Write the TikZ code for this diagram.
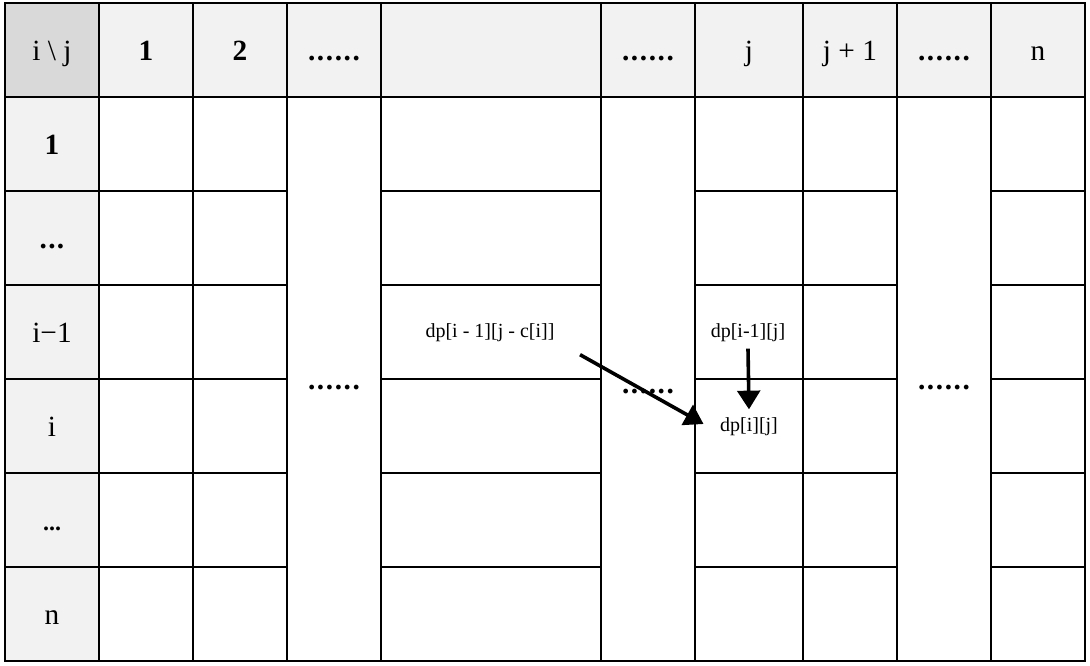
\documentclass[tikz,border=0pt]{standalone}
\usepackage{fontspec}
\setmainfont{Liberation Serif}
\usetikzlibrary{arrows.meta,calc}
\definecolor{hdr}{HTML}{F2F2F2}
\definecolor{corner}{HTML}{D9D9D9}
\newcommand\hdrsize{\fontsize{22}{26}\selectfont}
\newcommand\lblsize{\fontsize{15}{18}\selectfont}
\newcommand\sixdots{\textbf{.\kern1.2pt.\kern1.2pt.\kern1.2pt.\kern1.2pt.\kern1.2pt.}}
\newcommand\tcell[7]{\node[cellbox,#6,minimum width={(#4-#2)*0.75pt},minimum height={(#5-#3)*0.75pt}] (#1) at ({(#2+#4)/2},{(#3+#5)/2}) {\vphantom{Xy}\smash{\raisebox{-3pt}{#7}}};}
\begin{document}
\begin{tikzpicture}[x=0.75pt,y=-0.75pt,
  cellbox/.style={draw=black,line width=0.9pt,inner sep=0pt,anchor=center,font=\hdrsize},
  hdrcell/.style={fill=hdr},
  lbl/.style={inner sep=1pt,font=\lblsize},
  arr/.style={line width=2.7pt,-{Triangle[length=14pt,width=17pt]}}]
\useasboundingbox (0,0) rectangle (1090,666);
% header row
\tcell{h0}{5}{3}{99}{97}{fill=corner}{i \textbackslash\ j}
\tcell{h1}{99}{3}{193}{97}{hdrcell}{\textbf{1}}
\tcell{h2}{193}{3}{287}{97}{hdrcell}{\textbf{2}}
\tcell{h3}{287}{3}{381}{97}{hdrcell}{\sixdots}
\tcell{h4}{381}{3}{601}{97}{hdrcell}{}
\tcell{h5}{601}{3}{695}{97}{hdrcell}{\sixdots}
\tcell{h6}{695}{3}{803}{97}{hdrcell}{j}
\tcell{h7}{803}{3}{897}{97}{hdrcell}{j + 1}
\tcell{h8}{897}{3}{991}{97}{hdrcell}{\sixdots}
\tcell{h9}{991}{3}{1085}{97}{hdrcell}{n}
% row labels
\tcell{r1}{5}{97}{99}{191}{hdrcell}{\textbf{1}}
\tcell{r2}{5}{191}{99}{285}{hdrcell}{\textbf{.\kern1pt.\kern1pt.}}
\tcell{r3}{5}{285}{99}{379}{hdrcell}{i−1}
\tcell{r4}{5}{379}{99}{473}{hdrcell}{i}
\tcell{r5}{5}{473}{99}{567}{hdrcell}{{\fontsize{18}{20}\selectfont\bfseries ...}}
\tcell{r6}{5}{567}{99}{661}{hdrcell}{n}
% body cells
\foreach \xa/\xb/\cn in {99/193/1,193/287/2,381/601/4,695/803/6,803/897/7,991/1085/9}
  \foreach \ya/\yb/\rn in {97/191/1,191/285/2,285/379/3,379/473/4,473/567/5,567/661/6}
    {\tcell{c\cn r\rn}{\xa}{\ya}{\xb}{\yb}{}{}}
% merged columns
\tcell{m3}{287}{97}{381}{661}{}{\sixdots}
\tcell{m5}{601}{97}{695}{661}{}{\raisebox{-3pt}{\sixdots}}
\tcell{m8}{897}{97}{991}{661}{}{\sixdots}
% labels
\node[lbl] (dA) at (490,333) {dp[i - 1][j - c[i]]};
\node[lbl] (dB) at (748,333) {dp[i-1][j]};
\node[lbl] (dC) at (749,427) {dp[i][j]};
% arrows
\draw[arr] ($(dA.south east)+(24,11)$) -- ($(dC.west)+(-15,-3)$);
\draw[arr] ($(dB.south)+(0,5)$) -- ($(dC.north)+(0,-7)$);
\end{tikzpicture}
\end{document}
